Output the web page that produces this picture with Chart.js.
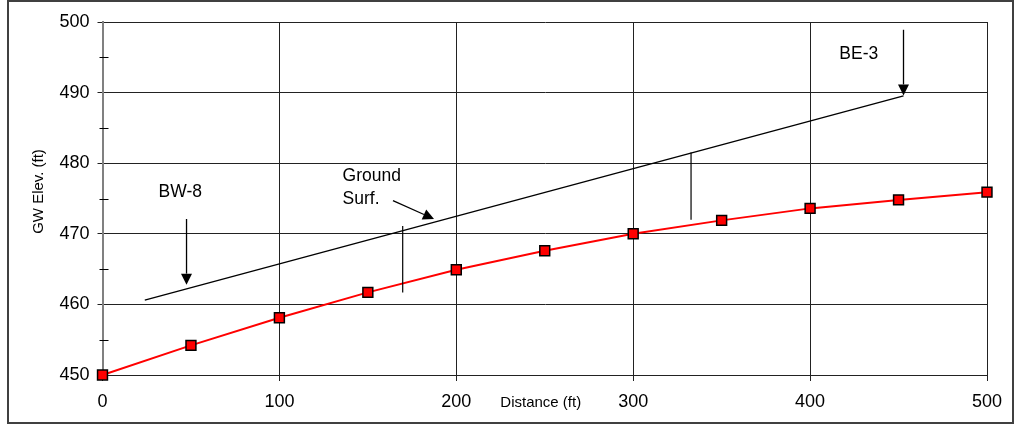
<!DOCTYPE html>
<html><head><meta charset="utf-8">
<script src="https://cdn.jsdelivr.net/npm/chart.js@4/dist/chart.umd.min.js"></script>
<style>html,body{margin:0;padding:0;background:#fff;overflow:hidden}</style>
</head><body>
<canvas id="c" width="1021" height="427"></canvas>
<script>
// ---- data ----
const distances = [0, 50, 100, 150, 200, 250, 300, 350, 400, 450, 500];
const gwElev = [450.0, 454.2, 458.1, 461.7, 464.9, 467.6, 470.0, 471.9, 473.6, 474.8, 475.9];
const groundX = [23.9, 452.8];
const groundY = [460.6, 489.55];
const xTickValues = [0, 100, 200, 300, 400, 500];
const yTickValues = [450, 460, 470, 480, 490, 500];
const yMinorTicks = [455, 465, 475, 485, 495];
const xTitle = 'Distance (ft)';
const yTitle = 'GW Elev. (ft)';

// annotations (data units)
const arrowLines = [
  {from: [47.5, 472.1], to: [47.5, 462.8]},
  {from: [164.2, 474.7], to: [187.4, 472.1]},
  {from: [452.8, 498.9], to: [452.8, 489.6]}
];
const plainLines = [
  {from: [169.7, 471.1], to: [169.7, 461.7]},
  {from: [332.7, 481.5], to: [332.7, 472.0]}
];
const noteLabels = [
  {lines: ['BW-8'], x: 44.0, y: 475.28, align: 'center'},
  {lines: ['Ground', 'Surf.'], x: 135.7, y: 477.5, align: 'left'},
  {lines: ['BE-3'], x: 427.5, y: 494.8, align: 'center'}
];

const FONT = '"Liberation Sans", Arial, sans-serif';

const overlay = {
  id: 'overlay',
  afterDraw(chart) {
    const ctx = chart.ctx;
    const xs = chart.scales.x, ys = chart.scales.y;
    const ca = chart.chartArea;
    ctx.save();
    // minor y ticks
    ctx.strokeStyle = '#000';
    ctx.lineWidth = 1;
    yMinorTicks.forEach(v => {
      const py = Math.round(ys.getPixelForValue(v)) + 0.5;
      ctx.beginPath();
      ctx.moveTo(ca.left - 3, py);
      ctx.lineTo(ca.left + 6, py);
      ctx.stroke();
    });
    // plain lines
    ctx.strokeStyle = '#000';
    ctx.lineWidth = 1.2;
    plainLines.forEach(l => {
      ctx.beginPath();
      ctx.moveTo(xs.getPixelForValue(l.from[0]), ys.getPixelForValue(l.from[1]));
      ctx.lineTo(xs.getPixelForValue(l.to[0]), ys.getPixelForValue(l.to[1]));
      ctx.stroke();
    });
    // arrows
    arrowLines.forEach(l => {
      const x1 = xs.getPixelForValue(l.from[0]), y1 = ys.getPixelForValue(l.from[1]);
      const x2 = xs.getPixelForValue(l.to[0]), y2 = ys.getPixelForValue(l.to[1]);
      const ang = Math.atan2(y2 - y1, x2 - x1);
      const len = 11, hw = 5.5;
      const bx = x2 - len * Math.cos(ang), by = y2 - len * Math.sin(ang);
      ctx.strokeStyle = '#000';
      ctx.lineWidth = 1.3;
      ctx.beginPath();
      ctx.moveTo(x1, y1);
      ctx.lineTo(bx, by);
      ctx.stroke();
      ctx.fillStyle = '#000';
      ctx.beginPath();
      ctx.moveTo(x2, y2);
      ctx.lineTo(bx + hw * Math.sin(ang), by - hw * Math.cos(ang));
      ctx.lineTo(bx - hw * Math.sin(ang), by + hw * Math.cos(ang));
      ctx.closePath();
      ctx.fill();
    });
    // note labels
    ctx.fillStyle = '#000';
    ctx.font = '17.5px ' + FONT;
    ctx.textBaseline = 'alphabetic';
    noteLabels.forEach(n => {
      ctx.textAlign = n.align;
      const px = xs.getPixelForValue(n.x), py = ys.getPixelForValue(n.y);
      n.lines.forEach((t, i) => ctx.fillText(t, px, py + i * 23));
    });
    // axis titles
    ctx.font = '15px ' + FONT;
    ctx.textAlign = 'center';
    ctx.textBaseline = 'middle';
    ctx.fillText(xTitle, (xs.getPixelForValue(200) + xs.getPixelForValue(300)) / 2 - 4, ca.bottom + 28);
    ctx.save();
    ctx.translate(39, (ca.top + ca.bottom) / 2 - 7);
    ctx.rotate(-Math.PI / 2);
    ctx.fillText(yTitle, 0, 0);
    ctx.restore();
    // outer frame
    ctx.strokeStyle = '#404040';
    ctx.lineWidth = 2;
    ctx.strokeRect(8, 1, 1005, 422);
    ctx.restore();
  }
};

new Chart(document.getElementById('c'), {
  type: 'scatter',
  data: {
    datasets: [
      {
        label: 'GW',
        data: distances.map((d, i) => ({x: d, y: gwElev[i]})),
        showLine: true,
        borderColor: '#ff0000',
        borderWidth: 2,
        pointStyle: 'rect',
        pointRadius: 7,
        pointBackgroundColor: '#ff0000',
        pointBorderColor: '#000',
        pointBorderWidth: 1.5,
        clip: false,
        order: 1
      },
      {
        label: 'Ground',
        data: groundX.map((d, i) => ({x: d, y: groundY[i]})),
        showLine: true,
        borderColor: '#000',
        borderWidth: 1.3,
        pointRadius: 0,
        order: 2
      }
    ]
  },
  options: {
    responsive: false,
    devicePixelRatio: 1,
    animation: false,
    layout: {padding: {left: 0, right: 34, top: 22, bottom: 0}},
    plugins: {legend: {display: false}, tooltip: {enabled: false}},
    scales: {
      x: {
        type: 'linear', min: 0, max: 500,
        afterBuildTicks: s => { s.ticks = xTickValues.map(v => ({value: v})); },
        afterFit: s => { s.height = 52; },
        ticks: {color: '#000', font: {size: 18, family: FONT}, padding: 10, maxRotation: 0},
        grid: {color: '#222', lineWidth: 1, tickLength: 6, tickColor: '#222'},
        border: {display: true, color: '#222', width: 1}
      },
      y: {
        type: 'linear', min: 450, max: 500,
        afterBuildTicks: s => { s.ticks = yTickValues.map(v => ({value: v})); },
        afterFit: s => { s.width = 102.5; },
        ticks: {color: '#000', font: {size: 18, family: FONT}, padding: 8},
        grid: {color: '#222', lineWidth: 1, tickLength: 5, tickColor: '#222'},
        border: {display: true, color: '#808080', width: 2}
      }
    }
  },
  plugins: [overlay]
});
</script>
</body></html>
